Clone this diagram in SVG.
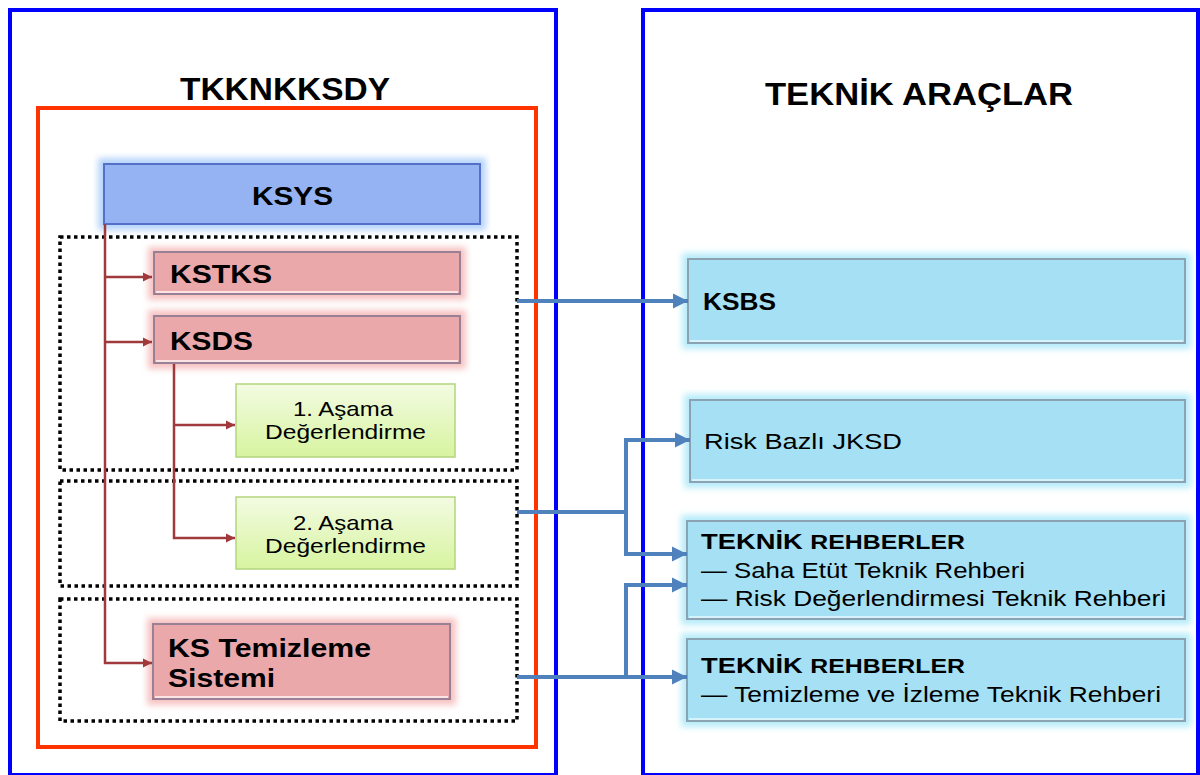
<svg xmlns="http://www.w3.org/2000/svg" width="1200" height="775" viewBox="0 0 1200 775">
<defs>
<style>
.frame{fill:none;stroke:#0000FF;stroke-width:4}
.redframe{fill:none;stroke:#FF3300;stroke-width:4}
.dot{fill:none;stroke:#000;stroke-width:3.5;stroke-dasharray:3.5 3.5}
.ksys{fill:#95B3F3;stroke:#5470C8;stroke-width:2}
.pink{fill:#EBA8AB;stroke:#9A8094;stroke-width:2}
.green{fill:url(#gg);stroke:#B3D67C;stroke-width:1.5}
.cyan{fill:#A6E0F4;stroke:#8AA2B2;stroke-width:2}
.gb{fill:#B5D4FA;filter:url(#blur)}
.gp{fill:#F7C2C2;filter:url(#blur)}
.gc{fill:#B8ECFA;filter:url(#blur)}
.hl{stroke:#FBE3E3;stroke-width:2}
.hlc{stroke:#D6F2FB;stroke-width:2}
.rc{fill:none;stroke:#A0393C;stroke-width:2.5}
.bc{fill:none;stroke:#4F81BD;stroke-width:4}
text{font-family:"Liberation Sans",Arial,sans-serif;fill:#000}
.title{font-weight:bold;font-size:31px}
.b{font-weight:bold}
</style>
<linearGradient id="gg" x1="0" y1="0" x2="0" y2="1">
<stop offset="0" stop-color="#F3FBE2"/>
<stop offset="1" stop-color="#D7F4A0"/>
</linearGradient>
<filter id="blur" x="-10%" y="-30%" width="120%" height="160%"><feGaussianBlur stdDeviation="3"/></filter>
<marker id="ar" markerUnits="userSpaceOnUse" markerWidth="10" markerHeight="10" refX="9" refY="5" orient="auto"><path d="M0,0.5 L9,5 L0,9.5 z" fill="#A0393C"/></marker>
<marker id="ab" markerUnits="userSpaceOnUse" markerWidth="16" markerHeight="16" refX="15" refY="8" orient="auto"><path d="M0,0.5 L15,8 L0,15.5 z" fill="#4F81BD"/></marker>
</defs>
<rect width="1200" height="775" fill="#FFFFFF"/>

<g id="left-frame">
<rect class="frame" x="10" y="10" width="546" height="765"/>
<text class="title" x="180" y="100" textLength="210" lengthAdjust="spacingAndGlyphs">TKKNKKSDY</text>
</g>
<g id="right-frame">
<rect class="frame" x="643" y="10" width="555" height="765"/>
<text class="title" x="765" y="105" textLength="308" lengthAdjust="spacingAndGlyphs" font-size="32">TEKNİK ARAÇLAR</text>
</g>
<g id="red-frame"><rect class="redframe" x="38" y="108" width="498" height="639"/></g>
<g id="group1"><rect class="dot" x="60" y="237" width="457" height="233"/></g>
<g id="group2"><rect class="dot" x="60" y="481" width="457" height="105"/></g>
<g id="group3"><rect class="dot" x="60" y="599" width="457" height="122"/></g>

<g id="ksys">
<rect class="gb" x="98" y="158" width="388" height="72"/>
<rect class="ksys" x="104" y="164" width="376" height="60"/>
<text class="b" x="252" y="205" font-size="26" textLength="81" lengthAdjust="spacingAndGlyphs">KSYS</text>
</g>
<g id="kstks">
<rect class="gp" x="148" y="247" width="318" height="53"/>
<rect class="pink" x="154" y="252" width="306" height="42"/>
<line class="hl" x1="156" y1="292" x2="458" y2="292"/>
<text class="b" x="170" y="283" font-size="25" textLength="102" lengthAdjust="spacingAndGlyphs">KSTKS</text>
</g>
<g id="ksds">
<rect class="gp" x="148" y="310" width="318" height="59"/>
<rect class="pink" x="154" y="316" width="306" height="47"/>
<line class="hl" x1="156" y1="361" x2="458" y2="361"/>
<text class="b" x="170" y="350" font-size="25" textLength="83" lengthAdjust="spacingAndGlyphs">KSDS</text>
</g>
<g id="asama1">
<rect class="green" x="236" y="384" width="219" height="73"/>
<text x="293" y="416" font-size="21" textLength="100" lengthAdjust="spacingAndGlyphs">1. Aşama</text>
<text x="265" y="439" font-size="21" textLength="161" lengthAdjust="spacingAndGlyphs">Değerlendirme</text>
</g>
<g id="asama2">
<rect class="green" x="236" y="497" width="219" height="72"/>
<text x="293" y="530" font-size="21" textLength="100" lengthAdjust="spacingAndGlyphs">2. Aşama</text>
<text x="265" y="553" font-size="21" textLength="161" lengthAdjust="spacingAndGlyphs">Değerlendirme</text>
</g>
<g id="ks-temizleme">
<rect class="gp" x="147" y="618" width="309" height="87"/>
<rect class="pink" x="153" y="624" width="297" height="75"/>
<line class="hl" x1="155" y1="697" x2="448" y2="697"/>
<text class="b" x="168" y="657" font-size="26" textLength="203" lengthAdjust="spacingAndGlyphs">KS Temizleme</text>
<text class="b" x="168" y="687" font-size="26" textLength="107" lengthAdjust="spacingAndGlyphs">Sistemi</text>
</g>

<g id="ksbs">
<rect class="gc" x="682" y="253" width="509" height="96"/>
<rect class="cyan" x="688" y="259" width="497" height="84"/>
<line class="hlc" x1="690" y1="341" x2="1183" y2="341"/>
<text class="b" x="703" y="310" font-size="23" textLength="73" lengthAdjust="spacingAndGlyphs">KSBS</text>
</g>
<g id="risk-bazli">
<rect class="gc" x="684" y="394" width="507" height="94"/>
<rect class="cyan" x="690" y="400" width="495" height="82"/>
<line class="hlc" x1="692" y1="480" x2="1183" y2="480"/>
<text x="704" y="449" font-size="22" textLength="198" lengthAdjust="spacingAndGlyphs">Risk Bazlı  JKSD</text>
</g>
<g id="teknik-rehberler-1">
<rect class="gc" x="681" y="515" width="510" height="110"/>
<rect class="cyan" x="687" y="521" width="498" height="98"/>
<line class="hlc" x1="689" y1="617" x2="1183" y2="617"/>
<text class="b" x="701" y="549" font-size="22" textLength="264" lengthAdjust="spacingAndGlyphs">TEKNİK <tspan font-size="20">REHBERLER</tspan></text>
<text x="701" y="578" font-size="22" textLength="324" lengthAdjust="spacingAndGlyphs">— Saha Etüt Teknik Rehberi</text>
<text x="701" y="606" font-size="22" textLength="465" lengthAdjust="spacingAndGlyphs">— Risk Değerlendirmesi Teknik Rehberi</text>
</g>
<g id="teknik-rehberler-2">
<rect class="gc" x="681" y="633" width="510" height="94"/>
<rect class="cyan" x="687" y="639" width="498" height="82"/>
<line class="hlc" x1="689" y1="719" x2="1183" y2="719"/>
<text class="b" x="701" y="673" font-size="22" textLength="264" lengthAdjust="spacingAndGlyphs">TEKNİK <tspan font-size="20">REHBERLER</tspan></text>
<text x="701" y="702" font-size="22" textLength="460" lengthAdjust="spacingAndGlyphs">— Temizleme ve İzleme Teknik Rehberi</text>
</g>

<g id="connectors">
<path class="rc" d="M105 224 V663 H152" marker-end="url(#ar)"/>
<path class="rc" d="M105 277 H152" marker-end="url(#ar)"/>
<path class="rc" d="M105 342 H152" marker-end="url(#ar)"/>
<path class="rc" d="M174 364 V538 H235" marker-end="url(#ar)"/>
<path class="rc" d="M174 425 H235" marker-end="url(#ar)"/>
<path class="bc" d="M517 301 H688" marker-end="url(#ab)"/>
<path class="bc" d="M517 512 H626 V440 H690" marker-end="url(#ab)"/>
<path class="bc" d="M626 512 V554 H687" marker-end="url(#ab)"/>
<path class="bc" d="M517 677 H687" marker-end="url(#ab)"/>
<path class="bc" d="M626 677 V585 H687" marker-end="url(#ab)"/>
</g>
</svg>
